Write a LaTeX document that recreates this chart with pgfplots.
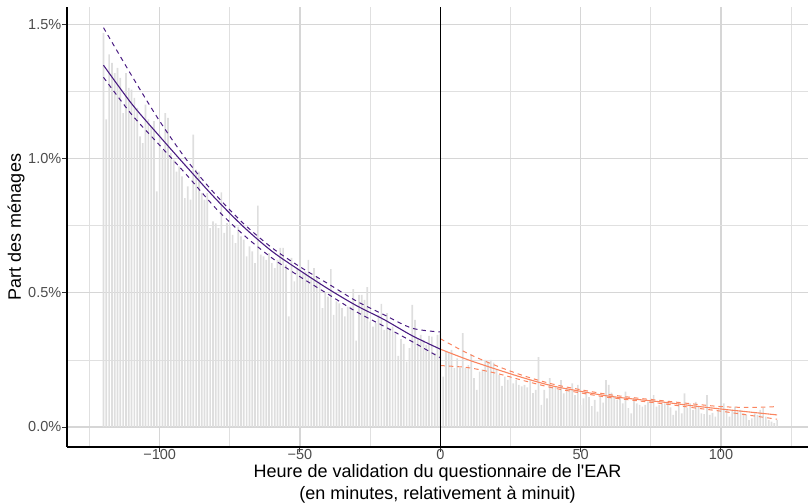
\documentclass[border=0pt]{standalone}
\usepackage{fontspec}
\setmainfont{Liberation Sans}
\usepackage{pgfplots}
\usepackage{pgfplotstable}
\pgfplotsset{compat=1.18}

\definecolor{barcol}{HTML}{DEDEDE}
\definecolor{gridmaj}{HTML}{D6D6D6}
\definecolor{gridmin}{HTML}{E0E0E0}
\definecolor{purp}{HTML}{4A1C82}
\definecolor{oran}{HTML}{FA8560}

% share of households per minute around midnight
\pgfplotstableread{
m v
-120 1.469
-119 1.146
-118 1.388
-117 1.357
-116 1.319
-115 1.338
-114 1.301
-113 1.170
-112 1.319
-111 1.264
-110 1.257
-109 1.226
-108 1.189
-107 1.083
-106 1.058
-105 1.201
-104 1.146
-103 1.121
-102 1.140
-101 0.878
-100 1.089
-99 1.033
-98 1.170
-97 1.152
-96 1.021
-95 0.996
-94 0.952
-93 0.971
-92 0.934
-91 0.853
-90 0.897
-89 0.847
-88 1.089
-87 0.959
-86 0.952
-85 0.872
-84 0.847
-83 0.872
-82 0.741
-81 0.766
-80 0.759
-79 0.741
-78 0.874
-77 0.723
-76 0.760
-75 0.747
-74 0.716
-73 0.685
-72 0.747
-71 0.710
-70 0.698
-69 0.636
-68 0.673
-67 0.654
-66 0.611
-65 0.825
-64 0.642
-63 0.636
-62 0.623
-61 0.648
-60 0.611
-59 0.592
-58 0.623
-57 0.667
-56 0.667
-55 0.605
-54 0.412
-53 0.630
-52 0.543
-51 0.592
-50 0.598
-49 0.574
-48 0.580
-47 0.623
-46 0.561
-45 0.592
-44 0.561
-43 0.543
-42 0.443
-41 0.499
-40 0.486
-39 0.588
-38 0.418
-37 0.468
-36 0.461
-35 0.443
-34 0.412
-33 0.449
-32 0.449
-31 0.514
-30 0.322
-29 0.492
-28 0.492
-27 0.474
-26 0.521
-25 0.393
-24 0.374
-23 0.387
-22 0.418
-21 0.459
-20 0.362
-19 0.424
-18 0.368
-17 0.374
-16 0.349
-15 0.265
-14 0.327
-13 0.310
-12 0.244
-11 0.294
-10 0.455
-9 0.399
-8 0.331
-7 0.343
-6 0.325
-5 0.306
-4 0.340
-3 0.337
-2 0.275
-1 0.343
0 0.349
1 0.188
2 0.281
3 0.275
4 0.287
5 0.219
6 0.256
7 0.219
8 0.350
9 0.219
10 0.231
11 0.272
12 0.182
13 0.138
14 0.206
15 0.215
16 0.250
17 0.244
18 0.250
19 0.240
20 0.215
21 0.194
22 0.153
23 0.188
24 0.176
25 0.182
26 0.163
27 0.176
28 0.157
29 0.151
30 0.157
31 0.148
32 0.176
33 0.126
34 0.138
35 0.260
36 0.082
37 0.138
38 0.107
39 0.182
40 0.151
41 0.150
42 0.138
43 0.175
44 0.125
45 0.144
46 0.138
47 0.163
48 0.119
49 0.157
50 0.082
51 0.107
52 0.132
53 0.111
54 0.078
55 0.101
56 0.057
57 0.113
58 0.091
59 0.175
60 0.157
61 0.128
62 0.116
63 0.101
64 0.113
65 0.088
66 0.132
67 0.070
68 0.051
69 0.107
70 0.088
71 0.082
72 0.076
73 0.082
74 0.094
75 0.107
76 0.119
77 0.076
78 0.082
79 0.088
80 0.088
81 0.094
82 0.073
83 0.045
84 0.061
85 0.088
86 0.051
87 0.125
88 0.070
89 0.088
90 0.064
91 0.094
92 0.076
93 0.051
94 0.048
95 0.119
96 0.045
97 0.053
98 0.039
99 0.064
100 0.070
101 0.088
102 0.064
103 0.039
104 0.064
105 0.076
106 0.057
107 0.064
108 0.051
109 0.045
110 0.026
111 0.032
112 0.051
113 0.045
114 0.064
115 0.070
116 0.039
117 0.026
118 0.020
119 0.014
120 0.026
}\bars

% fits before midnight: estimate, upper, lower
\pgfplotstableread{
m s u l
-120 1.348 1.488 1.303
-110 1.205 1.310 1.165
-100 1.083 1.140 1.050
-90 0.965 0.990 0.935
-80 0.850 0.865 0.815
-70 0.745 0.757 0.715
-60 0.655 0.668 0.630
-50 0.583 0.597 0.560
-40 0.515 0.534 0.495
-30 0.453 0.470 0.430
-20 0.400 0.418 0.375
-10 0.340 0.368 0.318
0 0.290 0.354 0.258
}\avant

% fits after midnight
\pgfplotstableread{
m s u l
0 0.290 0.329 0.229
10 0.250 0.273 0.221
20 0.215 0.228 0.200
30 0.182 0.190 0.172
40 0.153 0.160 0.146
50 0.133 0.139 0.127
60 0.115 0.121 0.110
70 0.103 0.108 0.098
80 0.092 0.097 0.086
90 0.079 0.086 0.072
100 0.067 0.076 0.059
110 0.056 0.073 0.044
120 0.045 0.076 0.029
}\apres

\begin{document}
\begin{tikzpicture}
\begin{axis}[
  scale only axis, width=741bp, height=440bp,
  xmin=-133, xmax=131, ymin=-0.0745, ymax=1.565,
  axis lines=left, axis line style={-, black, line width=1.1bp},
  tick align=outside, major tick length=4.5bp, minor tick length=0pt,
  tick style={color=black!80, line width=1bp},
  xtick={-100,-50,0,50,100}, xticklabels={−100,−50,0,50,100},
  ytick={0,0.5,1,1.5}, yticklabels={0.0\%,0.5\%,1.0\%,1.5\%},
  minor xtick={-125,-75,-25,25,75,125}, minor ytick={0.25,0.75,1.25},
  grid=both,
  major grid style={color=gridmaj, line width=1.1bp},
  minor grid style={color=gridmin, line width=0.8bp},
  ticklabel style={font=\fontsize{14.5bp}{16bp}\selectfont, color=black!70},
  xticklabel style={inner sep=0.5bp, yshift=2.5bp},
  yticklabel style={inner sep=1bp},
  xlabel={Heure de validation du questionnaire de l\textquotesingle EAR\\(en minutes, relativement à minuit)},
  ylabel={Part des ménages},
  xlabel style={at={(rel axis cs:0.5,0)}, anchor=north, yshift=-17bp, align=center,
    font=\fontsize{18bp}{22bp}\selectfont, inner sep=0pt},
  ylabel style={at={(rel axis cs:0,0.5)}, anchor=base, yshift=46bp,
    font=\fontsize{18bp}{22bp}\selectfont, inner sep=0pt},
]
\addplot[ybar, bar width=0.6, fill=barcol, draw=none] table[x=m, y=v] {\bars};

\addplot[purp, line width=1.1bp, smooth] table[x=m, y=s] {\avant};
\addplot[purp, line width=1bp, smooth, dash pattern=on 4.5bp off 4bp] table[x=m, y=u] {\avant};
\addplot[purp, line width=1bp, smooth, dash pattern=on 4.5bp off 4bp] table[x=m, y=l] {\avant};

\addplot[oran, line width=1.1bp, smooth] table[x=m, y=s] {\apres};
\addplot[oran, line width=1bp, smooth, dash pattern=on 4.5bp off 4bp] table[x=m, y=u] {\apres};
\addplot[oran, line width=1bp, smooth, dash pattern=on 4.5bp off 4bp] table[x=m, y=l] {\apres};

\addplot[black, line width=1.1bp] coordinates {(0,-0.0745) (0,1.565)};
\end{axis}
\pgfresetboundingbox
\path[use as bounding box] (-67bp,-57bp) rectangle (742bp,447bp);
\end{tikzpicture}
\end{document}
